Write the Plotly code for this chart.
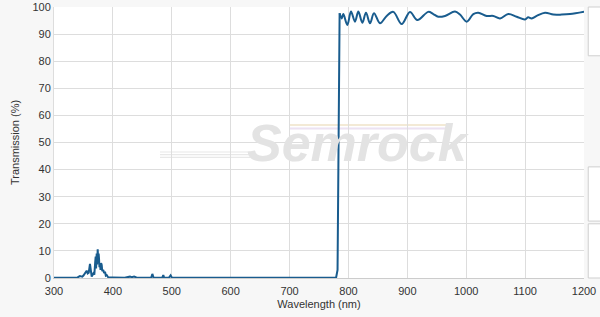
import plotly.graph_objects as go

# UV leak region + blocking + edge (nm, %T)
uv_nm = [300, 330, 340, 344, 348, 350, 352.6, 355.5, 357.2, 359, 361.1, 362.5, 364, 366.8, 368.5,
         370, 370.8, 371.5, 372.5, 373.3, 374.2, 375, 375.8, 376.4, 377.2, 378.1, 379, 380, 381,
         382, 383.7, 385, 386.6, 388, 389.5, 392.2, 400, 420, 429, 432, 436, 440, 450, 465, 467, 469,
         480, 484, 485.6, 487, 495, 498, 500, 520, 600, 700, 779, 781.5, 783.5, 785]
uv_t = [0.1, 0.1, 0.2, 0.7, 0.5, 0.9, 1.7, 2.7, 1.7, 2.0, 5.2, 2.0, 0.5, 1.7, 1.2,
        6.0, 7.9, 3.5, 9.0, 5.0, 10.6, 6.5, 9.0, 7.3, 4.0, 5.4, 3.0, 5.5, 4.8,
        2.5, 3.0, 1.8, 2.3, 0.9, 1.1, 0.2, 0.2, 0.1, 0.5, 0.3, 0.5, 0.2, 0.1, 0.1, 1.5, 0.2,
        0.1, 0.2, 1.1, 0.2, 0.1, 1.0, 0.2, 0.1, 0.05, 0.05, 0.1, 3, 60, 97.7]

# Passband ripple
pass_nm = [785, 788.5, 791.3, 798.1, 804.3, 811.1, 816.8, 823.6, 829.8,
           836.6, 843.4, 853.6, 864.9, 876.2, 890.4, 904.5, 917, 935.6, 944.1, 952.6, 964, 981,
           989.4, 1000.8, 1012, 1020.5, 1034.7, 1046, 1057.4, 1071.5, 1085.7, 1099.8, 1105, 1111.2,
           1119.7, 1133.8, 1147.9, 1162.1, 1176.2, 1200]
pass_t = [97.7, 95.8, 97.4, 93.4, 98.3, 94.6, 98.3, 94.2, 97.9,
          94.0, 97.7, 94.0, 96.7, 98.2, 93.7, 98.2, 95.2, 98.2, 97.4, 96.4, 96.7, 98.3,
          97.2, 94.6, 97.4, 97.9, 96.7, 96.7, 95.8, 97.4, 96.4, 95.4, 96.2, 95.8,
          96.7, 97.9, 97.2, 97.2, 97.4, 98.3]

x_ticks = [300, 400, 500, 600, 700, 800, 900, 1000, 1100, 1200]
y_ticks = [0, 10, 20, 30, 40, 50, 60, 70, 80, 90, 100]

LINE = "#195c8e"

fig = go.Figure()

# Watermark
fig.add_annotation(x=0.574, y=0.50, xref="paper", yref="paper", text="<b><i>Semrock</i></b>",
                   showarrow=False, font=dict(family="Liberation Sans, Arial", size=52, color="#e3e3e3"))
for dy, c in [(0.565, "#f3ead6"), (0.552, "#ece2f2")]:
    fig.add_shape(type="line", xref="paper", yref="paper", x0=0.445, x1=0.742, y0=dy, y1=dy,
                  line=dict(color=c, width=2), layer="below")
for dy in [0.465, 0.455, 0.445]:
    fig.add_shape(type="line", xref="paper", yref="paper", x0=0.2, x1=0.37, y0=dy, y1=dy,
                  line=dict(color="#e8e8e8", width=1.2), layer="below")

fig.add_trace(go.Scatter(x=uv_nm, y=uv_t, mode="lines",
                         line=dict(color=LINE, width=2),
                         hoverinfo="skip", showlegend=False))
fig.add_trace(go.Scatter(x=pass_nm, y=pass_t, mode="lines",
                         line=dict(color=LINE, width=2, shape="spline", smoothing=1.0),
                         hoverinfo="skip", showlegend=False))

# Right side UI panels
for y0, y1 in [(0.82, 1.0), (0.21, 0.41), (0.0, 0.2)]:
    fig.add_shape(type="rect", xref="paper", yref="paper", x0=1.008, x1=1.06, y0=y0, y1=y1,
                  line=dict(color="#cfcfcf", width=1), fillcolor="white")

fig.update_layout(
    width=600, height=317,
    margin=dict(l=54, r=16, t=7, b=39),
    paper_bgcolor="#f7f7f7", plot_bgcolor="white",
    font=dict(family="Liberation Sans, Arial", size=11, color="#333333"),
    xaxis=dict(range=[300, 1200], tickvals=x_ticks, showgrid=True, gridcolor="#dddddd",
               zeroline=False, showline=True, linecolor="#cccccc", ticks="", automargin=False,
               ticklabelstandoff=3,
               title=dict(text="Wavelength (nm)", font=dict(size=11), standoff=4)),
    yaxis=dict(range=[0, 100], tickvals=y_ticks, showgrid=True, gridcolor="#dddddd",
               zeroline=False, showline=True, linecolor="#dddddd", ticks="", automargin=False,
               title=dict(text="Transmission (%)", font=dict(size=11), standoff=10)),
)

fig.write_html("out.html")
